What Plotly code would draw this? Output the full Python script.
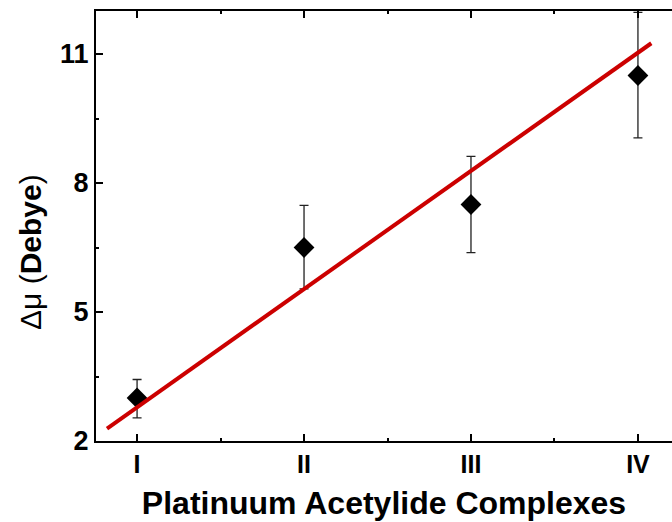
import plotly.graph_objects as go

categories = ["I", "II", "III", "IV"]
cat_pos = [1, 2, 3, 4]
delta_mu = [3.0, 6.5, 7.5, 10.5]
err_up = [0.43, 0.98, 1.12, 1.47]
err_down = [0.46, 0.96, 1.12, 1.45]
fit_x = [0.82, 4.08]
fit_y = [2.29, 11.25]
y_ticks = [2, 5, 8, 11]

fig = go.Figure()
fig.add_trace(go.Scatter(
    x=cat_pos, y=delta_mu, mode="markers",
    marker=dict(symbol="diamond", size=16, color="black"),
    error_y=dict(type="data", symmetric=False, array=err_up, arrayminus=err_down,
                 color="#222222", thickness=1.3, width=4.5),
    showlegend=False,
))
fig.add_trace(go.Scatter(
    x=fit_x, y=fit_y, mode="lines",
    line=dict(color="#cc0000", width=4),
    showlegend=False,
))

fig.update_layout(
    width=672, height=522,
    margin=dict(l=96, r=0, t=11, b=81),
    plot_bgcolor="white", paper_bgcolor="white",
    font=dict(family="Liberation Sans, Arial", color="black"),
    xaxis=dict(
        range=[0.754, 4.204],
        tickmode="array", tickvals=cat_pos, ticktext=categories,
        ticks="inside", ticklen=7, tickwidth=2, tickcolor="black",
        showline=True, linewidth=2, linecolor="black", mirror="ticks",
        showgrid=False, zeroline=False,
        tickfont=dict(size=25, weight="bold"),
        minor=dict(tickvals=[1.5, 2.5, 3.5], ticks="inside", ticklen=3, tickwidth=1.5, tickcolor="black", showgrid=False),
        title=dict(text="Platinuum Acetylide Complexes", font=dict(size=32, weight="bold"), standoff=15),
    ),
    yaxis=dict(
        range=[2, 12],
        tickmode="array", tickvals=y_ticks, ticktext=[str(v) for v in y_ticks],
        ticks="inside", ticklen=7, tickwidth=2, tickcolor="black",
        showline=True, linewidth=2, linecolor="black",
        showgrid=False, zeroline=False,
        tickfont=dict(size=27, weight="bold"),
        minor=dict(tickvals=[3.5, 6.5, 9.5], ticks="inside", ticklen=3, tickwidth=1.5, tickcolor="black", showgrid=False),
    ),
    annotations=[dict(
        text="Δμ (<b>Debye</b>)", textangle=-90,
        xref="paper", yref="paper", x=-0.1146, y=0.4395,
        xanchor="center", yanchor="middle", showarrow=False,
        font=dict(size=30, color="black"),
    )],
)
fig.write_html("out.html")
